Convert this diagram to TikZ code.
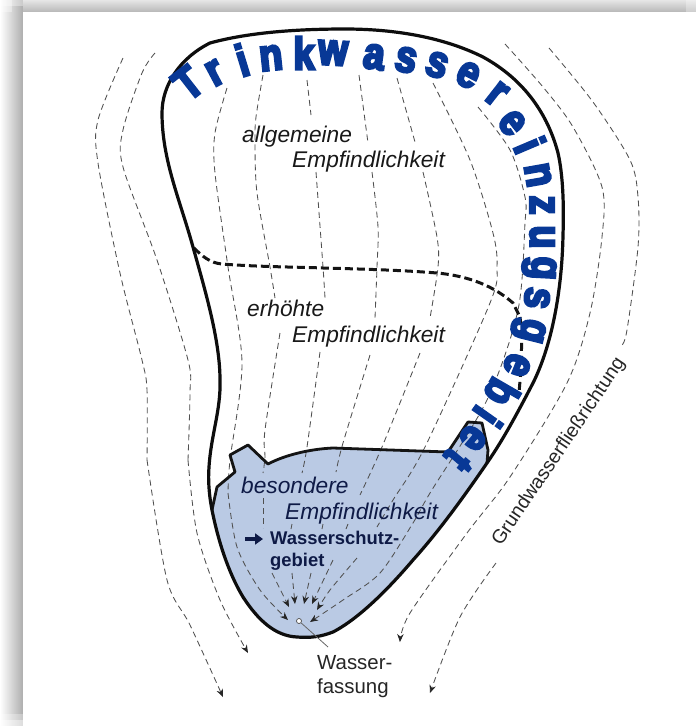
\documentclass[tikz,border=0pt]{standalone}
\usepackage{fontspec}
\setmainfont{Liberation Sans}
\newfontfamily\twfont[FakeStretch=0.84,FakeBold=5.5]{Liberation Sans Bold}
\usetikzlibrary{arrows.meta,shadings}
\definecolor{twblue}{RGB}{8,56,150}
\definecolor{zone}{RGB}{186,202,228}
\definecolor{navy}{RGB}{14,26,70}
\definecolor{flowgray}{RGB}{80,80,80}
\tikzset{
  flow/.style={draw=flowgray,line width=0.85pt,dash pattern=on 6pt off 4pt},
  flowtip/.style={flow,-{Stealth[length=8pt,width=6.5pt,color=black!85]}},
  lbl/.style={font=\fontsize{22.7}{25}\selectfont\itshape,anchor=base west,inner sep=0pt,text=black!90},
  lblz/.style={lbl,text=navy},
  tw/.style={font=\twfont\fontsize{45}{45}\selectfont,text=twblue,inner sep=0pt,anchor=center},
}
\newcommand{\lowercurve}{(487,463) .. controls (465,495) and (440,530) .. (413,560)
  .. controls (390,587) and (360,618) .. (333,632)
  .. controls (320,637) and (310,638) .. (297,637)
  .. controls (275,636) and (258,620) .. (243,597)
  .. controls (228,572) and (218,540) .. (212,510)}
\begin{document}
\begin{tikzpicture}[x=1pt,y=-1pt]
\useasboundingbox (0,0) rectangle (696,726);
% frame shadow
\shade[left color=white,right color=black!32] (0,0) rectangle (23,726);
\shade[top color=black!10,bottom color=black!28] (23,0) rectangle (696,12);
\fill[white,opacity=.35] (0,0) rectangle (23,6);
\fill[white,opacity=.35] (0,0) rectangle (12,12);
\fill[white,opacity=.3] (0,714) rectangle (23,726);
\fill[white,opacity=.4] (0,720) rectangle (23,726);
\fill[white,opacity=.3] (686,0) rectangle (696,12);
\fill[white] (23,12) rectangle (696,726);
% protection zone fill
\fill[zone] \lowercurve
  -- (217,487) -- (235,472) -- (230,455) -- (248,445) -- (268,464)
  .. controls (285,455) and (310,449) .. (333,448) -- (448,452) -- (468,422) -- (482,423) -- (488,450) -- cycle;
% flow lines
\draw[flow] plot[smooth] coordinates {(123,58) (98,120) (98,163) (120,273) (142,360) (147,390) (147,460)};
\draw[flowtip] plot[smooth] coordinates {(147,460) (167,580) (190,625) (223,697)};
\draw[flow] plot[smooth] coordinates {(155,53) (142,73) (123,130) (123,167) (157,260) (188,360) (190,393) (188,460)};
\draw[flowtip] plot[smooth] coordinates {(188,460) (197,533) (220,600) (248,653)};
\draw[flow] plot[smooth] coordinates {(227,88) (215,133) (215,173) (228,267) (242,363) (230,460) (228,493)};
\draw[flowtip] plot[smooth] coordinates {(228,493) (237,547) (260,590) (288,620)};
\draw[flow] plot[smooth] coordinates {(263,75) (256,117) (255,143) (257,193) (270,267) (275,298)};
\draw[flow] plot[smooth] coordinates {(280,333) (265,430) (265,457) (263,473)};
\draw[flow] (263,498) -- (263,528);
\draw[flowtip] plot[smooth] coordinates {(272,573) (289,607)};
\draw[flow] plot[smooth] coordinates {(307,80) (311,115)};
\draw[flow] plot[smooth] coordinates {(316,172) (323,267) (325,298)};
\draw[flow] plot[smooth] coordinates {(320,352) (307,447) (302,473)};
\draw[flow] (292,524) -- (291,529);
\draw[flowtip] plot[smooth] coordinates {(292,573) (295,604)};
\draw[flow] plot[smooth] coordinates {(359,75) (368,143)};
\draw[flow] plot[smooth] coordinates {(372,172) (378,227) (377,267) (375,318)};
\draw[flow] plot[smooth] coordinates {(370,355) (343,443) (336,472)};
\draw[flow] (323,524) -- (322,529);
\draw[flowtip] plot[smooth] coordinates {(311,573) (304,604)};
\draw[flow] plot[smooth] coordinates {(397,78) (415,142)};
\draw[flow] plot[smooth] coordinates {(423,172) (437,237) (438,267) (430,318)};
\draw[flow] plot[smooth] coordinates {(420,353) (382,447) (360,495)};
\draw[flow] (348,524) -- (346,529);
\draw[flowtip] plot[smooth] coordinates {(333,560) (312,604)};
\draw[flow] plot[smooth] coordinates {(433,83) (470,160) (493,233) (497,267) (490,303) (425,447) (393,500) (377,527)};
\draw[flowtip] plot[smooth] coordinates {(357,558) (330,590) (317,610)};
\draw[flowtip] plot[smooth] coordinates {(478,107) (510,150) (525,197) (525,223) (518,310) (487,400) (430,493) (413,523) (380,573) (343,600) (310,622)};
\draw[flowtip] plot[smooth] coordinates {(505,44) (543,87) (573,127) (602,187) (602,237) (590,313) (567,383) (510,477) (467,533) (410,613) (400,642)};
\draw[flow] plot[smooth] coordinates {(549,48) (593,102) (630,160) (638,197) (638,247) (627,330) (622,345)};
\draw[flowtip] plot[smooth] coordinates {(496,563) (460,617) (430,693)};
% zone border
\draw[line width=2.8pt,line join=round,black!92]
  (487,463) -- (488,450) -- (482,423) -- (468,422) -- (448,452) -- (333,448)
  .. controls (310,449) and (285,455) .. (268,464)
  -- (248,445) -- (230,455) -- (235,472) -- (217,487) -- (212,510);
% dashed sensitivity border
\draw[line width=3pt,dash pattern=on 8pt off 4pt,black!92] (194,248) .. controls (202,256) and (210,263) .. (222,264) .. controls (260,267) and (300,267) .. (323,268) .. controls (360,269) and (400,270) .. (437,273) .. controls (470,276) and (495,287) .. (513,303) -- (520,317);
\draw[line width=3pt,dash pattern=on 8pt off 5pt,black!92] (520,317) .. controls (523,340) and (521,370) .. (519,393);
% catchment outline
\draw[line width=3.2pt,black!95] \lowercurve
  .. controls (209,495) and (208,480) .. (209,467)
  .. controls (211,435) and (221,410) .. (220,380)
  .. controls (220,340) and (205,290) .. (193,247)
  .. controls (180,200) and (162,160) .. (162,113)
  .. controls (162,85) and (180,58) .. (210,43)
  .. controls (250,32) and (300,29) .. (345,29)
  .. controls (397,29) and (445,38) .. (483,57)
  .. controls (525,80) and (548,115) .. (558,153)
  .. controls (563,175) and (564,205) .. (563,235)
  .. controls (562,290) and (552,345) .. (533,383)
  .. controls (518,412) and (503,440) .. (487,463) -- cycle;
% heading along the outline
\foreach \ch/\px/\py/\rt [count=\n] in {T/188/83/38,r/215/73/28,i/242/60/17,n/271/58/6,k/304/53/0,w/333/53/-3,a/374/57/-8,s/406/60/-12,s/437/65/-18,e/468/75/-27,r/497/94/-38,e/512/123/-52,i/530/145/-67,n/538/175/-80,z/542/205/-90,u/542/237/-90,g/539/268/-93,s/537/298/-97,g/528/330/-104,e/517/365/-112,b/502/393/-120,i/488/417/-125,e/473/438/-130,t/458/460/-130}
  \node[tw,rotate=\rt] (tw\n) at (\px,\py) {\ch};
% labels
\node[lbl] (allg) at (242,142) {allgemeine};
\node[lbl] (emp1) at (292,167) {Empfindlichkeit};
\node[lbl] (erh) at (247,316) {erhöhte};
\node[lbl] (emp2) at (292,342) {Empfindlichkeit};
\node[lblz] (bes) at (241,493) {besondere};
\node[lblz] (emp3) at (285,519) {Empfindlichkeit};
\node[anchor=base west,inner sep=0pt,font=\fontsize{18.4}{20}\selectfont\bfseries,text=navy] (ws1) at (270,544) {Wasserschutz-};
\node[anchor=base west,inner sep=0pt,font=\fontsize{18.4}{20}\selectfont\bfseries,text=navy] (ws2) at (270,566) {gebiet};
\coordinate (arrA) at (245,539);
\coordinate (arrB) at (263,539);
\draw[line width=4pt,navy,-{Triangle[length=8pt,width=11pt]}] (arrA) -- (arrB);
% well
\node[circle,draw=black!70,fill=white,line width=0.7pt,minimum size=5pt,inner sep=0pt] (well) at (299,621) {};
\coordinate (wellEnd) at (328,647);
\draw[black!60,line width=0.8pt] (well) -- (wellEnd);
\node[anchor=base west,inner sep=0pt,font=\fontsize{20.4}{22}\selectfont,text=black!85] (wf1) at (317,669) {Wasser-};
\node[anchor=base west,inner sep=0pt,font=\fontsize{20.4}{22}\selectfont,text=black!85] (wf2) at (317,693) {fassung};
\node[rotate=56,inner sep=0pt,font=\fontsize{19.5}{22}\selectfont,text=black!85] (gw) at (559,452) {Grundwasserfließrichtung};
\end{tikzpicture}
\end{document}
